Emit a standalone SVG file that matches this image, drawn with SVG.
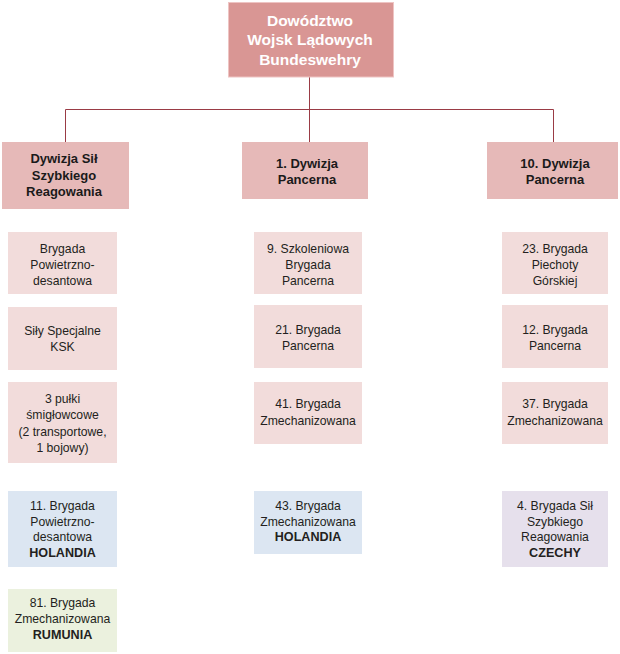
<svg xmlns="http://www.w3.org/2000/svg" width="620" height="654" viewBox="0 0 620 654">
<style>
.top{fill:#d99694;stroke:#eec4c3;stroke-width:1}
.div{fill:#e6b9b8}
.bri{fill:#f2dcdb}
.nl{fill:#dce6f2}
.ro{fill:#ebf1de}
.cz{fill:#e6e0ec}
.tt{font-family:"Liberation Sans",Arial,sans-serif;font-weight:bold;font-size:15.5px;fill:#ffffff;text-anchor:middle}
.dt{font-family:"Liberation Sans",Arial,sans-serif;font-weight:bold;font-size:13px;fill:#1a1a1a;text-anchor:middle}
.bt{font-family:"Liberation Sans",Arial,sans-serif;font-size:12.2px;fill:#231f20;text-anchor:middle}
.bt .b{font-weight:bold;font-size:12.6px}
.conn{fill:none;stroke:#9a3b45;stroke-width:1}
</style>
<rect width="620" height="654" fill="#ffffff"/>
<g id="connectors">
<path class="conn" d="M309.5 77 V109.5 M65.5 109.5 H553.5 M65.5 109.5 V142 M309.5 109.5 V142 M553.5 109.5 V142"/>
</g>
<g id="hq">
<rect class="top" x="228.5" y="2.5" width="165" height="74.5"/>
<text class="tt" x="310" y="25.5">Dowództwo</text>
<text class="tt" x="310" y="44.5">Wojsk Lądowych</text>
<text class="tt" x="310" y="64.5">Bundeswehry</text>
</g>
<g id="div-dss">
<rect class="div" x="2" y="142" width="127" height="67"/>
<text class="dt" x="64" y="163">Dywizja Sił</text>
<text class="dt" x="64" y="179.5">Szybkiego</text>
<text class="dt" x="64" y="196">Reagowania</text>
</g>
<g id="div-1">
<rect class="div" x="242" y="142" width="126" height="57"/>
<text class="dt" x="307" y="168">1. Dywizja</text>
<text class="dt" x="307" y="183.5">Pancerna</text>
</g>
<g id="div-10">
<rect class="div" x="487" y="142" width="131" height="57"/>
<text class="dt" x="555" y="168">10. Dywizja</text>
<text class="dt" x="555" y="183.5">Pancerna</text>
</g>
<g id="b-pd">
<rect class="bri" x="8" y="232" width="109" height="62"/>
<text class="bt" x="62.5" y="253">Brygada</text>
<text class="bt" x="62.5" y="269">Powietrzno-</text>
<text class="bt" x="62.5" y="285">desantowa</text>
</g>
<g id="b-ksk">
<rect class="bri" x="8" y="307" width="109" height="63"/>
<text class="bt" x="62.5" y="334.5">Siły Specjalne</text>
<text class="bt" x="62.5" y="351">KSK</text>
</g>
<g id="b-heli">
<rect class="bri" x="8" y="382" width="109" height="81"/>
<text class="bt" x="62.5" y="403">3 pułki</text>
<text class="bt" x="62.5" y="419">śmigłowcowe</text>
<text class="bt" x="62.5" y="435.5">(2 transportowe,</text>
<text class="bt" x="62.5" y="452">1 bojowy)</text>
</g>
<g id="b-11nl">
<rect class="nl" x="8" y="491" width="109" height="76"/>
<text class="bt" x="62.5" y="509.5">11. Brygada</text>
<text class="bt" x="62.5" y="525.5">Powietrzno-</text>
<text class="bt" x="62.5" y="541">desantowa</text>
<text class="bt" x="62.5" y="557"><tspan class="b">HOLANDIA</tspan></text>
</g>
<g id="b-81ro">
<rect class="ro" x="8" y="589" width="109" height="63"/>
<text class="bt" x="62.5" y="606.5">81. Brygada</text>
<text class="bt" x="62.5" y="622.5">Zmechanizowana</text>
<text class="bt" x="62.5" y="638.5"><tspan class="b">RUMUNIA</tspan></text>
</g>
<g id="b-9">
<rect class="bri" x="254" y="232" width="108" height="62"/>
<text class="bt" x="308" y="253">9. Szkoleniowa</text>
<text class="bt" x="308" y="269">Brygada</text>
<text class="bt" x="308" y="285">Pancerna</text>
</g>
<g id="b-21">
<rect class="bri" x="254" y="305" width="108" height="63"/>
<text class="bt" x="308" y="333.5">21. Brygada</text>
<text class="bt" x="308" y="350">Pancerna</text>
</g>
<g id="b-41">
<rect class="bri" x="254" y="382" width="108" height="62"/>
<text class="bt" x="308" y="408">41. Brygada</text>
<text class="bt" x="308" y="424.5">Zmechanizowana</text>
</g>
<g id="b-43nl">
<rect class="nl" x="254" y="491" width="108" height="63"/>
<text class="bt" x="308" y="509.5">43. Brygada</text>
<text class="bt" x="308" y="525.5">Zmechanizowana</text>
<text class="bt" x="308" y="541"><tspan class="b">HOLANDIA</tspan></text>
</g>
<g id="b-23">
<rect class="bri" x="502" y="232" width="106" height="62"/>
<text class="bt" x="555" y="253">23. Brygada</text>
<text class="bt" x="555" y="269">Piechoty</text>
<text class="bt" x="555" y="285">Górskiej</text>
</g>
<g id="b-12">
<rect class="bri" x="502" y="305" width="106" height="63"/>
<text class="bt" x="555" y="333.5">12. Brygada</text>
<text class="bt" x="555" y="350">Pancerna</text>
</g>
<g id="b-37">
<rect class="bri" x="502" y="382" width="106" height="62"/>
<text class="bt" x="555" y="408">37. Brygada</text>
<text class="bt" x="555" y="424.5">Zmechanizowana</text>
</g>
<g id="b-4cz">
<rect class="cz" x="502" y="491" width="106" height="76"/>
<text class="bt" x="555" y="509.5">4. Brygada Sił</text>
<text class="bt" x="555" y="525.5">Szybkiego</text>
<text class="bt" x="555" y="541">Reagowania</text>
<text class="bt" x="555" y="557"><tspan class="b">CZECHY</tspan></text>
</g>
</svg>
